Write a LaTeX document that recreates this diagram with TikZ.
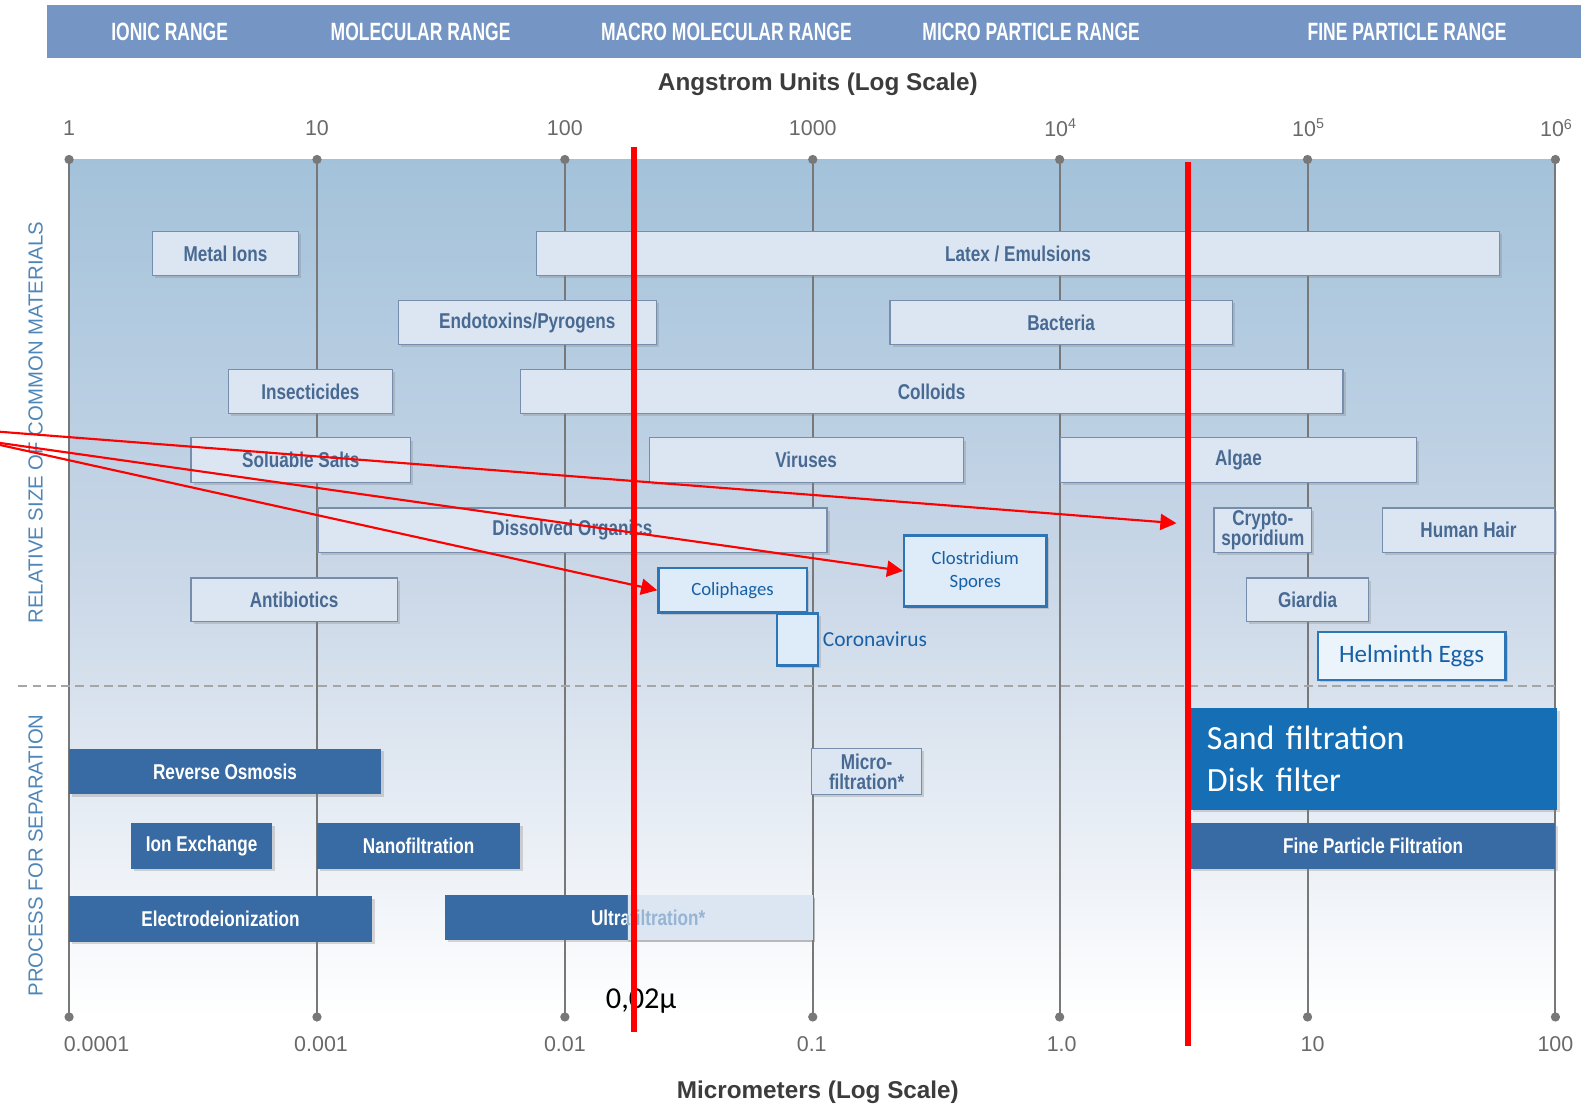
\documentclass[tikz,border=0pt]{standalone}
\usepackage{fontspec}
\setmainfont{Liberation Sans}
\newfontfamily\narrowfont[FakeStretch=0.8]{Liberation Sans}
\newfontfamily\bannerfont[FakeStretch=0.7]{Liberation Sans}
\newfontfamily\calibfont{Carlito}
\usetikzlibrary{arrows.meta,shadows}

\definecolor{banner}{RGB}{117,150,196}
\definecolor{bgtop}{RGB}{163,194,218}
\definecolor{bgmid}{RGB}{203,216,232}
\definecolor{matfill}{RGB}{220,230,242}
\definecolor{matline}{RGB}{118,142,172}
\definecolor{mattext}{RGB}{72,106,146}
\definecolor{procfill}{RGB}{56,106,163}
\definecolor{fadetext}{RGB}{150,180,212}
\definecolor{sandfill}{RGB}{22,111,181}
\definecolor{bluline}{RGB}{46,117,182}
\definecolor{blufill}{RGB}{222,236,249}
\definecolor{blutext}{RGB}{23,96,166}
\definecolor{sidetext}{RGB}{79,134,184}
\definecolor{gridgray}{RGB}{120,120,120}
\definecolor{ticktext}{RGB}{105,105,105}
\definecolor{axtext}{RGB}{60,60,60}
\definecolor{redline}{RGB}{255,0,0}

\begin{document}
\begin{tikzpicture}[
    x=0.2mm,y=-0.2mm,
    dim/.style 2 args={minimum width=#1*0.2mm,minimum height=#2*0.2mm},
    boxshadow/.style={drop shadow={shadow xshift=1.5pt,shadow yshift=-1.5pt,opacity=.3}},
    rangelab/.style={text=white,font=\bannerfont\bfseries\fontsize{14}{14}\selectfont},
    axtitle/.style={text=axtext,font=\bfseries\fontsize{13.6}{14}\selectfont},
    ticklab/.style={text=ticktext,font=\fontsize{12}{12}\selectfont},
    sidelab/.style={text=sidetext,rotate=90,font=\fontsize{11.4}{11}\selectfont},
    gridline/.style={draw=gridgray,line width=1.1pt},
    sepline/.style={draw=black!35,line width=0.9pt,dash pattern=on 5pt off 3pt},
    matbox/.style={draw=matline,line width=0.7pt,fill=matfill,text=mattext,
                   inner sep=0pt,align=center,boxshadow,
                   font=\narrowfont\bfseries\fontsize{12}{11.5}\selectfont},
    procbox/.style={fill=procfill,text=white,inner sep=0pt,boxshadow,
                    font=\narrowfont\bfseries\fontsize{12}{12}\selectfont},
    blubox/.style={draw=bluline,line width=1.3pt,fill=blufill,text=blutext,
                   inner sep=0pt,align=center,boxshadow,
                   font=\calibfont\fontsize{10.5}{12.5}\selectfont},
    corolab/.style={text=blutext,inner sep=2pt,font=\calibfont\fontsize{12}{12}\selectfont},
    redbar/.style={draw=redline,line width=3.4pt},
    redarrow/.style={draw=redline,line width=1.2pt,-{Triangle[length=9pt,width=9pt]}}]

  \useasboundingbox (0,0) rectangle (1568,1087);

  % --- banner with the size ranges ---
  \fill[banner] (46,5) rectangle (1556,57);
  \foreach \x/\rng in {167/IONIC RANGE,414/MOLECULAR RANGE,715/MACRO MOLECULAR RANGE,
                       1015/MICRO PARTICLE RANGE,1385/FINE PARTICLE RANGE}{
    \node[rangelab] (r\x) at (\x,31) {\rng};
  }

  % --- axis titles ---
  \node[axtitle] (angstrom) at (805,83) {Angstrom Units (Log Scale)};
  \node[axtitle] (micron) at (805,1075) {Micrometers (Log Scale)};

  % --- shaded field and the decade lines ---
  \shade[top color=bgtop,bottom color=white,middle color=bgmid] (68,157) rectangle (1531,1001);
  \foreach \x in {68,312,556,800,1043,1287,1531}{
    \draw[gridline] (\x,157) -- (\x,1001);
    \fill[gridgray] (\x,157) circle (2.6pt);
    \fill[gridgray] (\x,1001) circle (2.6pt);
  }
  \foreach \x/\v in {68/1,312/10,556/100,800/1000,1044/10\textsuperscript{4},
                     1288/10\textsuperscript{5},1532/10\textsuperscript{6}}{
    \node[ticklab] (t\x) at (\x,126) {\v};
  }
  \foreach \x/\v in {95/0.0001,316/0.001,556/0.01,799/0.1,1045/1.0,1292/10,1531/100}{
    \node[ticklab] (b\x) at (\x,1028) {\v};
  }

  % --- the two halves of the chart ---
  \draw[sepline] (18,675) -- (1531,675);
  \node[sidelab] (relsize) at (35,416) {RELATIVE SIZE OF COMMON MATERIALS};
  \node[sidelab] (procsep) at (35,842) {PROCESS FOR SEPARATION};

  % --- common materials ---
  \node[matbox,dim={144}{43}] (metal) at (222,249.5) {Metal Ions};
  \node[matbox,dim={948}{43}] (latex) at (1002,249.5) {Latex / Emulsions};
  \node[matbox,dim={254}{43}] (endo) at (519,317.5) {Endotoxins/Pyrogens};
  \node[matbox,dim={337}{43}] (bact) at (1044.5,317.5) {Bacteria};
  \node[matbox,dim={161}{43}] (insect) at (305.5,385.5) {Insecticides};
  \node[matbox,dim={810}{43}] (colloid) at (917,385.5) {Colloids};
  \node[matbox,dim={216}{44}] (salts) at (296,453) {Soluable Salts};
  \node[matbox,dim={309}{44}] (virus) at (793.5,453) {Viruses};
  \node[matbox,dim={350}{44}] (algae) at (1219,453) {Algae};
  \node[matbox,dim={501}{44}] (organic) at (563.5,522) {Dissolved Organics};
  \node[matbox,dim={96}{44}] (crypto) at (1243,522) {Crypto-\\sporidium};
  \node[matbox,dim={169}{44}] (hair) at (1445.5,522) {Human Hair};
  \node[matbox,dim={203}{43}] (antib) at (289.5,590.5) {Antibiotics};
  \node[matbox,dim={120}{43}] (giardia) at (1287,590.5) {Giardia};

  % --- organisms added in blue ---
  \node[blubox,dim={146}{44}] (coli) at (721,581) {Coliphages};
  \node[blubox,dim={140}{70}] (clost) at (960,562) {Clostridium\\Spores};
  \node[blubox,dim={40}{51},label={[corolab]right:Coronavirus}] (corona) at (785,629.5) {};
  \node[blubox,dim={185}{47},fill=blufill!60,font=\calibfont\fontsize{14}{14}\selectfont]
    (helm) at (1389.5,645.5) {Helminth Eggs};

  % --- separation processes ---
  \node[procbox,dim={307}{45}] (ro) at (221.5,759.5) {Reverse Osmosis};
  \node[matbox,dim={108}{45}] (microf) at (853,759.5) {Micro-\\filtration*};
  \node[procbox,dim={139}{45}] (ionx) at (198.5,832.5) {Ion Exchange};
  \node[procbox,dim={200}{45}] (nano) at (412,832.5) {Nanofiltration};
  \node[procbox,dim={298}{45}] (edi) at (217,904.5) {Electrodeionization};
  \node[procbox,dim={362}{44}] (ultra) at (619,903) {\hspace*{7.6mm}Ultrafiltration*};
  \begin{scope}
    \clip (618,870) rectangle (830,940);
    \node[procbox,fill=matfill,text=fadetext,dim={362}{44}] (ultralight) at (619,903)
      {\hspace*{7.6mm}Ultrafiltration*};
  \end{scope}
  \node[procbox,fill=sandfill,dim={361}{100},inner xsep=3.2mm,text width=65.8mm,align=left,
        font=\calibfont\fontsize{19}{24}\selectfont] (sand) at (1352.5,747)
    {Sand filtration\\Disk filter};
  \node[procbox,dim={359}{45}] (fine) at (1351.5,832.5) {Fine Particle Filtration};

  % --- cut-off lines ---
  \node[anchor=base west,inner sep=0pt,font=\calibfont\fontsize{17}{17}\selectfont]
    (cutoff) at (596,993) {0,02µ};
  \draw[redbar] (624,145) -- (624,1016);
  \draw[redbar] (1169,159) -- (1169,1030);

  % --- pointers from the left ---
  \coordinate (src1) at (0,425);
  \coordinate (src2) at (0,436);
  \coordinate (src3) at (0,438);
  \coordinate (tip1) at (1158,515);
  \draw[redarrow] (src1) -- (tip1);
  \draw[redarrow] (src2) -- (clost.west);
  \draw[redarrow] (src3) -- (coli.west);

\end{tikzpicture}
\end{document}
